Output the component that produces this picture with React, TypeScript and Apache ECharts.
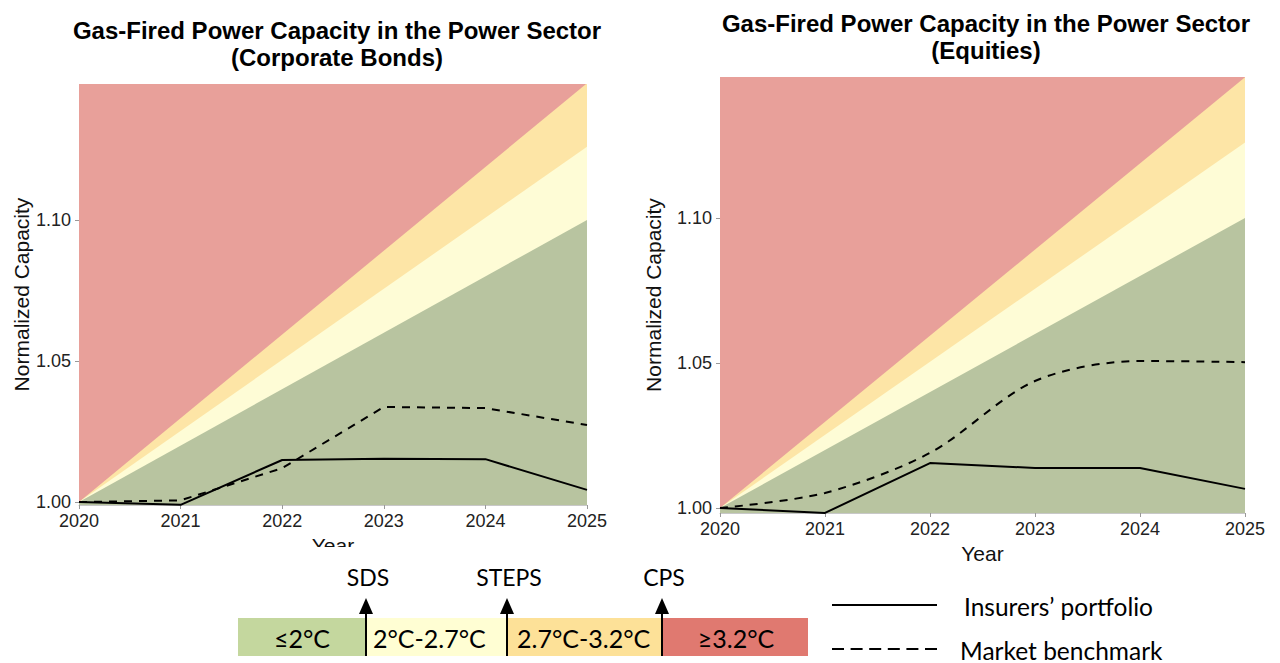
import React, { useEffect, useRef } from "react";
import * as echarts from "echarts";

// ---- data ----
const years = [2020, 2021, 2022, 2023, 2024, 2025];
const bandYears = [2020, 2025];
const sdsBound = [1.0, 1.1]; // ≤2°C upper boundary
const stepsBound = [1.0, 1.126]; // 2°C-2.7°C upper boundary
const cpsBound = [1.0, 1.1485]; // 2.7°C-3.2°C upper boundary

const bondsInsurers = [1.0, 0.999, 1.0149, 1.0153, 1.0152, 1.0043];
const bondsMarket = [1.0, 1.0006, 1.012, 1.0337, 1.0333, 1.0273];
const equitiesInsurers = [1.0, 0.9983, 1.0155, 1.0138, 1.0138, 1.0066];
const equitiesMarket = [1.0, 1.0052, 1.019, 1.0438, 1.0507, 1.0503];

const yTicks = [1.0, 1.05, 1.1];
const titles = [
  "Gas-Fired Power Capacity in the Power Sector\n(Corporate Bonds)",
  "Gas-Fired Power Capacity in the Power Sector\n(Equities)",
];
const bandLabels = ["≤2°C", "2°C-2.7°C", "2.7°C-3.2°C", "≥3.2°C"];
const scenarioLabels = ["SDS", "STEPS", "CPS"];
const lineLegend = ["Insurers’ portfolio", "Market benchmark"];

// ---- colours ----
const C_RED = "#E8A09A";
const C_ORANGE = "#FDE5A6";
const C_YELLOW = "#FEFCD6";
const C_GREEN = "#B8C4A0";
const L_GREEN = "#C4D79E";
const L_YELLOW = "#FFFED3";
const L_ORANGE = "#FDE198";
const L_RED = "#E07970";

const FONT = "'Liberation Sans', Arial, sans-serif";
const LFONT = "Lato, 'Open Sans', sans-serif";

export default function App() {
  const ref = useRef<HTMLDivElement>(null);
  useEffect(() => {
    if (!ref.current) return;
    const chart = echarts.init(ref.current, null, { renderer: "svg" });

    const grids = [
      { left: 79, top: 84, width: 508, height: 421, min: 0.99894, max: 1.14823, nameGap: 47, xNameGap: 28 },
      { left: 720, top: 77, width: 525, height: 436, min: 0.99828, max: 1.14862, nameGap: 56, xNameGap: 29 },
    ];
    const lineData = [
      [bondsInsurers, bondsMarket, false],
      [equitiesInsurers, equitiesMarket, true],
    ] as const;

    const xAxes: any[] = [];
    const yAxes: any[] = [];
    const series: any[] = [];
    grids.forEach((g, i) => {
      xAxes.push({
        gridIndex: i,
        type: "value",
        min: 2020,
        max: 2025,
        interval: 1,
        name: "Year",
        nameLocation: "middle",
        nameGap: g.xNameGap,
        nameTextStyle: { fontFamily: FONT, fontSize: 21, color: "#111", verticalAlign: "top" },
        axisLine: { show: true, lineStyle: { color: "#c8c8c8", width: 1 } },
        axisTick: { show: true, length: 4, lineStyle: { color: "#999" } },
        axisLabel: { fontFamily: FONT, fontSize: 18, color: "#222", margin: 7, formatter: (v: number) => String(v) },
        splitLine: { show: false },
      });
      yAxes.push({
        gridIndex: i,
        type: "value",
        min: g.min,
        max: g.max,
        name: "Normalized Capacity",
        nameLocation: "middle",
        nameGap: g.nameGap,
        nameTextStyle: { fontFamily: FONT, fontSize: 21, color: "#111" },
        axisLine: { show: false },
        axisTick: { show: true, length: 4, lineStyle: { color: "#999" }, customValues: yTicks },
        axisLabel: {
          fontFamily: FONT,
          fontSize: 18,
          color: "#222",
          margin: 8,
          customValues: yTicks,
          formatter: (v: number) => v.toFixed(2),
        },
        splitLine: { show: false },
      });
      const bands: [number[], string][] = [
        [cpsBound, C_ORANGE],
        [stepsBound, C_YELLOW],
        [sdsBound, C_GREEN],
      ];
      bands.forEach(([b, col], k) => {
        series.push({
          type: "line",
          xAxisIndex: i,
          yAxisIndex: i,
          data: bandYears.map((y, j) => [y, b[j]]),
          symbol: "none",
          lineStyle: { width: 0 },
          areaStyle: { color: col, opacity: 1, origin: "start" },
          z: 1 + k,
          silent: true,
        });
      });
      const [ins, mkt, smooth] = lineData[i];
      series.push({
        type: "line",
        xAxisIndex: i,
        yAxisIndex: i,
        data: years.map((y, j) => [y, mkt[j]]),
        symbol: "none",
        smooth: smooth ? 0.3 : false,
        lineStyle: { color: "#000", width: 2, type: [8, 7] },
        z: 10,
      });
      series.push({
        type: "line",
        xAxisIndex: i,
        yAxisIndex: i,
        data: years.map((y, j) => [y, ins[j]]),
        symbol: "none",
        lineStyle: { color: "#000", width: 2 },
        z: 11,
      });
    });

    // legend graphics
    const boxY = 618;
    const boxH = 38;
    const boxes = [
      { x: 238, w: 128, c: L_GREEN },
      { x: 366, w: 141, c: L_YELLOW },
      { x: 507, w: 155, c: L_ORANGE },
      { x: 662, w: 146, c: L_RED },
    ];
    const arrowX = [366, 507, 662];
    const graphic: any[] = [];
    boxes.forEach((b) =>
      graphic.push({ type: "rect", shape: { x: b.x, y: boxY, width: b.w, height: boxH }, style: { fill: b.c }, z: 100 })
    );
    const boxTextPos = [
      { x: 302, align: "center" },
      { x: 373, align: "left" },
      { x: 517, align: "left" },
      { x: 736, align: "center" },
    ];
    bandLabels.forEach((t, i) =>
      graphic.push({
        type: "text",
        x: boxTextPos[i].x,
        y: boxY + boxH / 2 + 1,
        style: { text: t, fontFamily: LFONT, fontSize: 25, fill: "#000", align: boxTextPos[i].align, verticalAlign: "middle" },
        z: 101,
      })
    );
    arrowX.forEach((x, i) => {
      graphic.push({ type: "line", shape: { x1: x, y1: 610, x2: x, y2: boxY + boxH }, style: { stroke: "#000", lineWidth: 2 }, z: 102 });
      graphic.push({ type: "polygon", shape: { points: [[x, 598], [x - 7, 614], [x + 7, 614]] }, style: { fill: "#000" }, z: 102 });
      graphic.push({
        type: "text",
        x: x + 2,
        y: 577,
        style: { text: scenarioLabels[i], fontFamily: LFONT, fontSize: 23, fill: "#000", align: "center", verticalAlign: "middle" },
        z: 102,
      });
    });
    graphic.push({ type: "line", shape: { x1: 832, y1: 605, x2: 937, y2: 605 }, style: { stroke: "#000", lineWidth: 2 }, z: 100 });
    graphic.push({ type: "line", shape: { x1: 832, y1: 649, x2: 937, y2: 649 }, style: { stroke: "#000", lineWidth: 2, lineDash: [12, 6.6] }, z: 100 });
    graphic.push({
      type: "text",
      x: 964,
      y: 606,
      style: { text: lineLegend[0], fontFamily: LFONT, fontSize: 24.5, fill: "#000", align: "left", verticalAlign: "middle" },
      z: 100,
    });
    graphic.push({
      type: "text",
      x: 960,
      y: 650,
      style: { text: lineLegend[1], fontFamily: LFONT, fontSize: 24.5, fill: "#000", align: "left", verticalAlign: "middle" },
      z: 100,
    });
    // white patch partially covering the left "Year" label (as in the reference)
    graphic.push({ type: "rect", shape: { x: 290, y: 547, width: 90, height: 20 }, style: { fill: "#fff" }, z: 99 });

    chart.setOption({
      animation: false,
      backgroundColor: "#fff",
      title: [
        {
          text: titles[0],
          left: 332,
          top: 12,
          textAlign: "center",
          textStyle: { fontFamily: FONT, fontSize: 24, fontWeight: "bold", color: "#000", lineHeight: 27 },
        },
        {
          text: titles[1],
          left: 981,
          top: 5,
          textAlign: "center",
          textStyle: { fontFamily: FONT, fontSize: 24, fontWeight: "bold", color: "#000", lineHeight: 27 },
        },
      ],
      grid: grids.map((g) => ({
        left: g.left,
        top: g.top,
        width: g.width,
        height: g.height,
        show: true,
        backgroundColor: C_RED,
        borderWidth: 0,
        containLabel: false,
      })),
      xAxis: xAxes,
      yAxis: yAxes,
      series,
      graphic,
    });
    return () => chart.dispose();
  }, []);
  return <div ref={ref} style={{ position: "fixed", left: 0, top: 0, width: 1280, height: 663 }} />;
}
